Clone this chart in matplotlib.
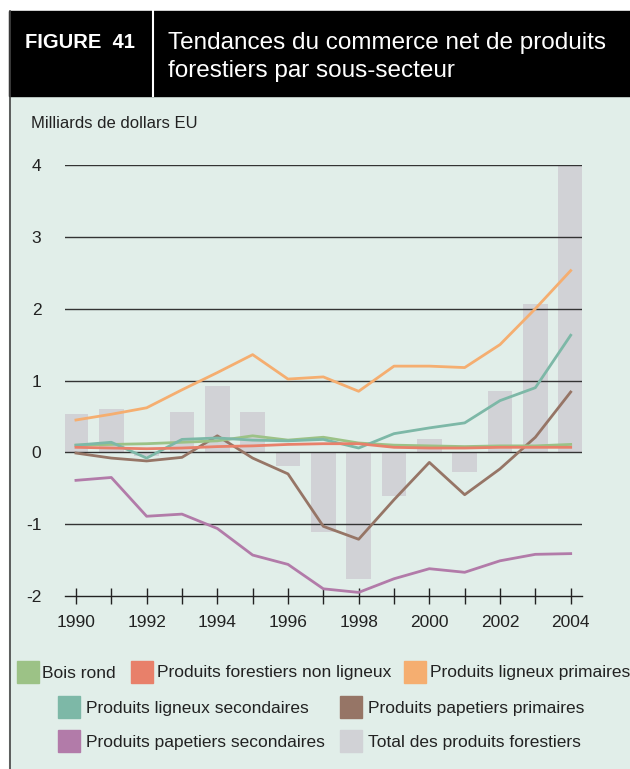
import numpy as np
import matplotlib
matplotlib.use("Agg")
import matplotlib.pyplot as plt
from matplotlib.patches import Rectangle

plt.rcParams["font.family"] = ["Liberation Sans", "DejaVu Sans"]
plt.rcParams["axes.unicode_minus"] = False

# data (milliards de dollars EU)
years = np.arange(1990, 2005)
total = [0.53, 0.60, -0.05, 0.56, 0.93, 0.56, -0.19, -1.11, -1.77, -0.61, 0.18, -0.27, 0.85, 2.06, 3.98]
bois_rond = [0.10, 0.11, 0.12, 0.14, 0.16, 0.23, 0.17, 0.21, 0.13, 0.10, 0.09, 0.08, 0.09, 0.09, 0.11]
non_ligneux = [0.07, 0.06, 0.05, 0.06, 0.08, 0.09, 0.11, 0.12, 0.12, 0.07, 0.06, 0.06, 0.07, 0.07, 0.07]
ligneux_prim = [0.45, 0.53, 0.62, 0.87, 1.11, 1.36, 1.02, 1.05, 0.85, 1.20, 1.20, 1.18, 1.50, 2.00, 2.53]
ligneux_sec = [0.10, 0.14, -0.08, 0.18, 0.20, 0.17, 0.16, 0.18, 0.06, 0.26, 0.34, 0.41, 0.72, 0.90, 1.63]
papier_prim = [-0.01, -0.08, -0.12, -0.07, 0.23, -0.08, -0.30, -1.03, -1.21, -0.66, -0.14, -0.59, -0.23, 0.21, 0.84]
papier_sec = [-0.39, -0.35, -0.89, -0.86, -1.06, -1.43, -1.56, -1.90, -1.95, -1.76, -1.62, -1.67, -1.51, -1.42, -1.41]

labels = ["Bois rond", "Produits forestiers non ligneux", "Produits ligneux primaires",
          "Produits ligneux secondaires", "Produits papetiers primaires",
          "Produits papetiers secondaires", "Total des produits forestiers"]
colors = ["#9cc286", "#e8806a", "#f5ae70", "#7db8a7", "#967566", "#b27ba9", "#d1d2d6"]
series = [bois_rond, non_ligneux, ligneux_prim, ligneux_sec, papier_prim, papier_sec]
# drawing order of the lines (back to front)
order = [5, 4, 2, 0, 3, 1]

W, H = 630, 769
fig = plt.figure(figsize=(W / 100, H / 100), dpi=100)
fig.patch.set_facecolor("white")

bg = "#e1eee9"
fig.add_artist(Rectangle((9 / W, 0), 1, 1 - 96 / H, transform=fig.transFigure, color=bg, zorder=0))
fig.add_artist(Rectangle((9 / W, 1 - 96 / H), 1, 85 / H, transform=fig.transFigure, color="black", zorder=1))
fig.add_artist(plt.Line2D([9.5 / W, 9.5 / W], [0, 1 - 11 / H], transform=fig.transFigure, color="#444444", lw=1.2))
fig.add_artist(plt.Line2D([153 / W, 153 / W], [1 - 11 / H, 1 - 96 / H], transform=fig.transFigure, color="white", lw=1.5))

fig.text(25 / W, 1 - 43 / H, "FIGURE  41", color="white", fontsize=14.5, fontweight="bold", va="center")
fig.text(168 / W, 1 - 43 / H, "Tendances du commerce net de produits", color="white", fontsize=17.5, va="center")
fig.text(168 / W, 1 - 71 / H, "forestiers par sous-secteur", color="white", fontsize=17.5, va="center")
fig.text(31 / W, 1 - 124 / H, "Milliards de dollars EU", color="#222222", fontsize=12, va="center")

ax = fig.add_axes([65 / W, 173 / H, 517 / W, 431 / H])
ax.set_facecolor("none")
ax.set_xlim(1989.69, 2004.32)
ax.set_ylim(-2, 4)

ax.bar(years, total, width=0.7, color=colors[6], zorder=1)
for y in range(-1, 5):
    ax.axhline(y, color="#333333", lw=1.0, zorder=2)
for i in order:
    ax.plot(years, series[i], color=colors[i], lw=2.0, zorder=3)

for s in ["top", "right", "left"]:
    ax.spines[s].set_visible(False)
ax.spines["bottom"].set_color("#222222")
ax.spines["bottom"].set_linewidth(1.0)
ax.set_yticks(range(-2, 5))
ax.set_xticks(years)
ax.set_xticklabels([str(y) if y % 2 == 0 else "" for y in years])
ax.tick_params(axis="y", length=0, pad=17, labelsize=12.5, labelcolor="#222222")
ax.tick_params(axis="x", direction="inout", length=11, width=1.0, color="#222222",
               pad=8, labelsize=12.5, labelcolor="#222222")
for lab in ax.get_yticklabels():
    lab.set_horizontalalignment("right")

# legend
legend_pos = [(17, 672, 42), (131, 672, 157), (404, 672, 430),
              (58, 707, 86), (340, 707, 368),
              (58, 741, 86), (340, 741, 368)]
leg_idx = [0, 1, 2, 3, 4, 5, 6]
for k, (px, py, tx) in zip(leg_idx, legend_pos):
    fig.add_artist(Rectangle((px / W, 1 - (py + 11) / H), 22 / W, 22 / H,
                             transform=fig.transFigure, color=colors[k], zorder=2))
    fig.text(tx / W, 1 - (py + 1) / H, labels[k], fontsize=12.5, color="#222222", va="center")

fig.savefig("out.png", dpi=100)
